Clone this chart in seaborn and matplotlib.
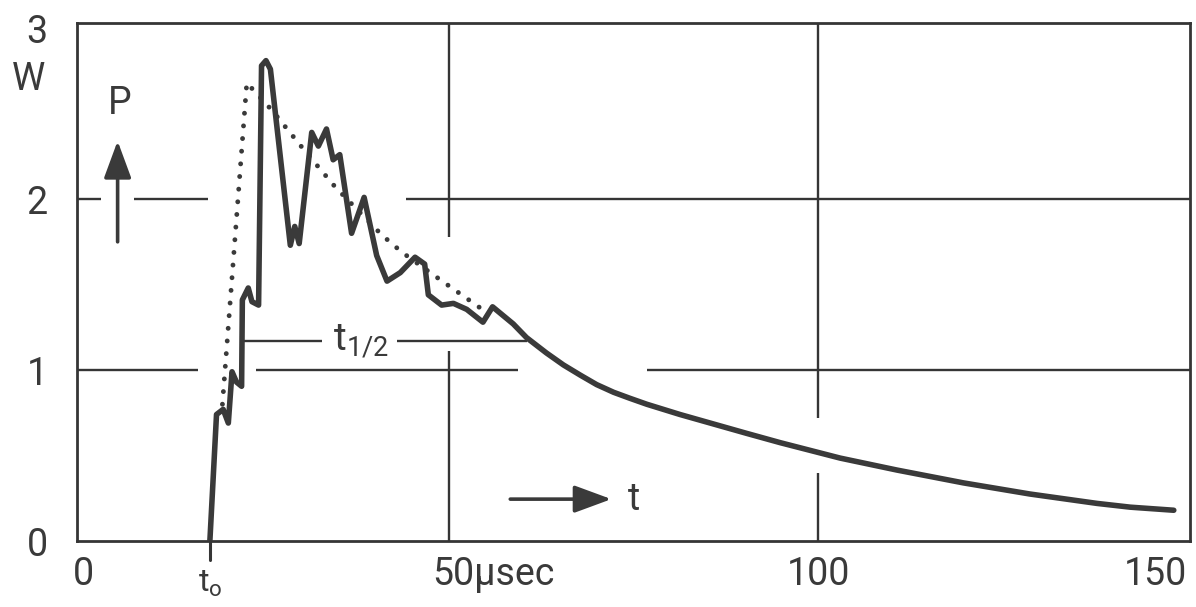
import numpy as np
import pandas as pd
import matplotlib
matplotlib.use("Agg")
import matplotlib.pyplot as plt
import seaborn as sns
from matplotlib import font_manager
from matplotlib.transforms import ScaledTranslation

# ---------------- data ----------------
pulse_t = [17.6, 18.5, 19.4, 20.1, 20.6, 21.2, 21.9, 22.0, 22.8, 23.3, 24.2, 24.6,
           25.2, 25.8, 28.5, 29.1, 29.7, 31.4, 32.3, 33.4, 34.3, 35.2, 36.8, 38.5,
           40.2, 41.6, 43.4, 45.4, 46.7, 47.2, 49.0, 50.6, 52.4, 54.6, 55.9, 58.7,
           60.5, 63.2, 65.5, 67.8, 70.0, 72.3, 74.5, 76.8, 81.3, 85.8, 90.3, 94.9,
           99.4, 103.0, 110.7, 119.7, 128.7, 137.8, 142.3, 148.2]
pulse_p = [0.00, 0.74, 0.77, 0.69, 0.99, 0.93, 0.905, 1.41, 1.48, 1.40, 1.38, 2.78,
           2.81, 2.76, 1.73, 1.84, 1.74, 2.39, 2.31, 2.41, 2.23, 2.26, 1.80, 2.01,
           1.67, 1.52, 1.57, 1.66, 1.62, 1.44, 1.38, 1.39, 1.355, 1.28, 1.37, 1.27,
           1.19, 1.10, 1.03, 0.97, 0.915, 0.87, 0.835, 0.80, 0.74, 0.685, 0.63, 0.575,
           0.525, 0.485, 0.415, 0.34, 0.275, 0.22, 0.198, 0.18]

approx_t = [19.3, 22.6, 26.0, 30.7, 34.6, 40.9, 43.6, 48.1, 55.0]
approx_p = [0.80, 2.68, 2.52, 2.27, 2.07, 1.79, 1.69, 1.55, 1.34]

t0 = 17.6
t_half_level = 1.17
x_ticks = [0, 50, 100, 150]
x_tick_labels = ["0", "50µsec", "100", "150"]
y_ticks = [0, 1, 2, 3]
y_tick_labels = ["0", "1", "2", "3"]

pulse = pd.DataFrame({"t": pulse_t, "P": pulse_p})
approx = pd.DataFrame({"t": approx_t, "P": approx_p})

# ---------------- style ----------------
sns.set_theme(style="white")
names = {f.name for f in font_manager.fontManager.ttflist}
fam = "Roboto" if "Roboto" in names else "DejaVu Sans"
plt.rcParams["font.family"] = [fam, "DejaVu Sans"]
plt.rcParams["mathtext.fontset"] = "custom"
plt.rcParams["mathtext.rm"] = fam

INK = "#3a3a3a"
GRID = "#353535"
FS = 27

fig = plt.figure(figsize=(11.96, 6.07), dpi=100)
ax = fig.add_axes([0.0644, 0.1087, 0.9306, 0.8534])
ax.set_xlim(-0.4, 150.4)
ax.set_ylim(0, 3.03)

# partial hand-drawn grid
def hseg(y, x0, x1):
    ax.plot([x0, x1], [y, y], color=GRID, lw=1.7, solid_capstyle="butt", zorder=1)

def vseg(x, y0, y1):
    ax.plot([x, x], [y0, y1], color=GRID, lw=1.7, solid_capstyle="butt", zorder=1)

hseg(2, -0.4, 2.9); hseg(2, 7.3, 17.3); hseg(2, 44.2, 150.4)
hseg(1, -0.4, 16.0); hseg(1, 23.8, 59.3); hseg(1, 76.8, 150.4)
vseg(50, 1.78, 3.03); vseg(50, 0, 1.11)
vseg(100, 0.72, 3.03); vseg(100, 0, 0.40)

# t1/2 marker line
hseg(t_half_level, 22.1, 32.8); hseg(t_half_level, 43.0, 60.6)
ax.text(38.0, t_half_level, r"$\mathregular{t_{1/2}}$", ha="center", va="center",
        fontsize=FS + 1, color=INK)

# curves
sns.lineplot(data=approx, x="t", y="P", ax=ax, color=INK, lw=3.5,
             linestyle=(0, (0.01, 2.6)), dash_capstyle="round", sort=False,
             estimator=None, zorder=2)
sns.lineplot(data=pulse, x="t", y="P", ax=ax, color=INK, lw=4.0, sort=False,
             estimator=None, solid_joinstyle="round", solid_capstyle="round", zorder=3)

# t0 tick mark and label
ax.plot([t0, t0], [0, -0.11], color=GRID, lw=2.2, clip_on=False, zorder=3)
ax.annotate(r"$\mathregular{t_o}$", xy=(t0, 0), xycoords="data", xytext=(0, -20),
            textcoords="offset points", ha="center", va="top", fontsize=FS - 4, color=INK,
            annotation_clip=False)

# arrows P and t
arrow_kw = dict(arrowstyle="-|>,head_length=1.9,head_width=0.7",
                color=INK, lw=2.6, shrinkA=0, shrinkB=0)
ax.annotate("", xy=(5.1, 2.34), xytext=(5.1, 1.75), arrowprops=arrow_kw)
ax.text(5.4, 2.56, "P", ha="center", va="center", fontsize=FS, color=INK)
ax.annotate("", xy=(72.0, 0.245), xytext=(58.3, 0.245), arrowprops=arrow_kw)
ax.text(74.3, 0.245, "t", ha="left", va="center", fontsize=FS, color=INK)

# axes text
ax.set_xticks(x_ticks, x_tick_labels)
ax.set_yticks(y_ticks, y_tick_labels)
ax.tick_params(axis="both", length=0, labelsize=FS, labelcolor=INK)
ax.tick_params(axis="x", pad=11)
ax.tick_params(axis="y", pad=21)
xl = ax.get_xticklabels()
xl[0].set_transform(xl[0].get_transform() + ScaledTranslation(0.03, 0, fig.dpi_scale_trans))
xl[1].set_horizontalalignment("left")
xl[1].set_transform(xl[1].get_transform() + ScaledTranslation(-0.17, 0, fig.dpi_scale_trans))
xl[3].set_horizontalalignment("right")
ax.set_xlabel("")
ax.set_ylabel("")
ax.annotate("W", xy=(0, 3), xycoords="data", xytext=(-37, -37), textcoords="offset points",
            ha="center", va="center", fontsize=FS, color=INK, annotation_clip=False)

for s in ax.spines.values():
    s.set_visible(True)
    s.set_color(GRID)
    s.set_linewidth(2.0)

fig.savefig("out.png", dpi=100, facecolor="white")
